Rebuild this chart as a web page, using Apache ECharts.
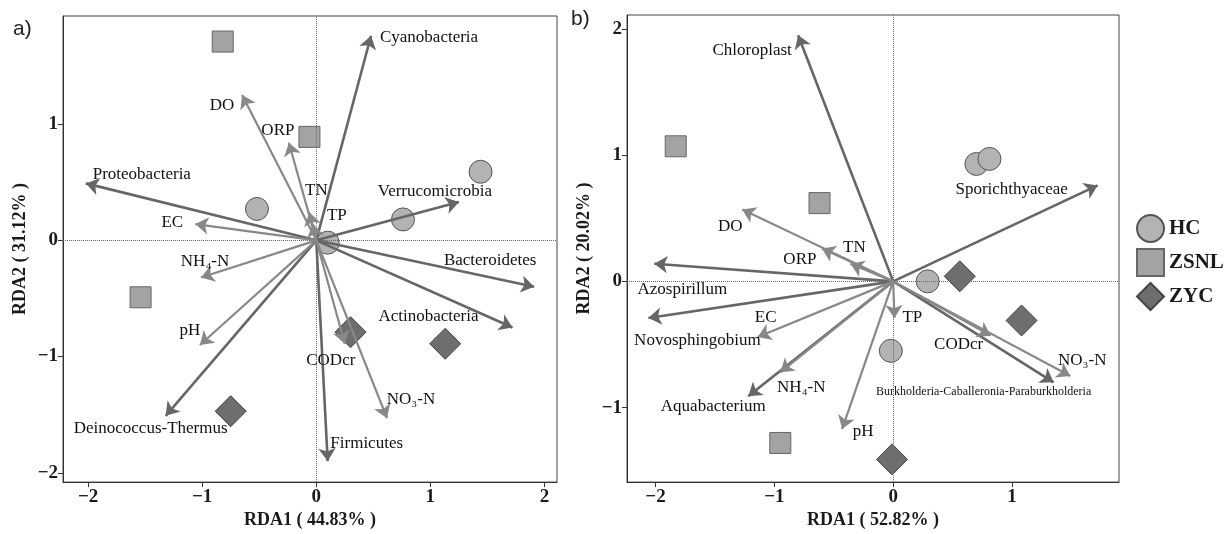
<!DOCTYPE html>
<html>
<head>
<meta charset="utf-8">
<script src="https://cdn.jsdelivr.net/npm/echarts@6/dist/echarts.min.js"></script>
<style>
html,body{margin:0;padding:0;background:#fff;}
#chart{width:1226px;height:534px;}
</style>
</head>
<body>
<div id="chart"></div>
<script>
// ---------- Panel a data ----------
const aArrowNames = ['Cyanobacteria','DO','ORP','TN','TP','Verrucomicrobia','Proteobacteria','EC','NH₄-N','pH','Deinococcus-Thermus','Bacteroidetes','Actinobacteria','CODcr','NO₃-N','Firmicutes'];
const aArrowX = [0.48,-0.65,-0.24,-0.06,-0.03,1.25,-2.02,-1.06,-1.01,-1.02,-1.32,1.91,1.72,0.25,0.62,0.10];
const aArrowY = [1.76,1.25,0.84,0.24,0.14,0.33,0.49,0.14,-0.32,-0.90,-1.51,-0.40,-0.75,-0.89,-1.53,-1.90];
const aArrowType = ['sp','env','env','env','env','sp','sp','env','env','env','sp','sp','sp','env','env','sp'];
const aHCx = [1.44,0.76,-0.52,0.10];
const aHCy = [0.59,0.18,0.27,-0.02];
const aZSNLx = [-0.82,-0.06,-1.54];
const aZSNLy = [1.71,0.89,-0.49];
const aZYCx = [0.30,1.13,-0.75];
const aZYCy = [-0.79,-0.89,-1.47];

// ---------- Panel b data ----------
const bArrowNames = ['Chloroplast','Sporichthyaceae','DO','ORP','TN','Azospirillum','Novosphingobium','EC','NH₄-N','Aquabacterium','pH','TP','CODcr','NO₃-N','Burkholderia-Caballeronia-Paraburkholderia'];
const bArrowX = [-0.80,1.72,-1.27,-0.60,-0.36,-2.01,-2.06,-1.14,-0.95,-1.22,-0.43,0.01,0.82,1.49,1.35];
const bArrowY = [1.95,0.76,0.57,0.26,0.14,0.14,-0.29,-0.44,-0.72,-0.91,-1.17,-0.29,-0.43,-0.75,-0.80];
const bArrowType = ['sp','sp','env','env','env','sp','sp','env','env','sp','env','env','env','env','sp'];
const bHCx = [0.70,0.81,0.29,-0.02];
const bHCy = [0.93,0.97,0.00,-0.55];
const bZSNLx = [-1.83,-0.62,-0.95];
const bZSNLy = [1.07,0.62,-1.28];
const bZYCx = [0.56,1.08,-0.01];
const bZYCy = [0.04,-0.31,-1.41];

const tickValsA = [-2,-1,0,1,2];
const tickValsAy = [-2,-1,0,1];
const tickValsBx = [-2,-1,0,1];
const tickValsBy = [-1,0,1,2];

// ---------- layout (pixel offsets of labels from arrow tips) ----------
const aLabelOffset = {
  'Cyanobacteria':[58,2],'DO':[-20,10],'ORP':[-11,-12],'TN':[7,-22],'TP':[24,-9],
  'Verrucomicrobia':[-24,-10],'Proteobacteria':[56,-9],'EC':[-23,-2],'NH₄-N':[4,-16],
  'pH':[-10,-14],'Deinococcus-Thermus':[-15,13],'Bacteroidetes':[-44,-26],
  'Actinobacteria':[-84,-11],'CODcr':[-14,17],'NO₃-N':[24,-19],'Firmicutes':[39,-18]
};
const bLabelOffset = {
  'Chloroplast':[-46,15],'Sporichthyaceae':[-86,4],'DO':[-12,17],'ORP':[-22,11],'TN':[4,-16],
  'Azospirillum':[28,26],'Novosphingobium':[49,23],'EC':[8,-19],'NH₄-N':[21,15],
  'Aquabacterium':[-35,10],'pH':[21,2],'TP':[18,0],'CODcr':[-32,9],'NO₃-N':[12,-16],
  'Burkholderia-Caballeronia-Paraburkholderia':[-70,9]
};

const SERIF = '"Liberation Serif","Times New Roman",serif';
const colSp = '#666666', colEnv = '#888888';

function fmtMinus(v){ return String(v).replace('-', '\u2212'); }

function makeAxes(idx, xr, yr, xt, yt, xname, yname) {
  const common = {
    type:'value', gridIndex: idx, splitLine:{show:false},
    axisLine:{show:true, onZero:false, lineStyle:{color:'#333', width:1}},
    axisTick:{show:true, length:5, lineStyle:{color:'#333'}},
    nameTextStyle:{fontFamily:SERIF, fontWeight:'bold', fontSize:18, color:'#1a1a1a'},
  };
  const x = Object.assign({}, common, {
    min:xr[0], max:xr[1], name:xname, nameLocation:'middle', nameGap:24,
    axisLabel:{customValues:xt, formatter:fmtMinus, fontFamily:SERIF, fontWeight:'bold', fontSize:19, color:'#1a1a1a', margin:5},
    axisTick:Object.assign({}, common.axisTick, {customValues:xt})
  });
  const y = Object.assign({}, common, {
    min:yr[0], max:yr[1], name:yname, nameLocation:'middle', nameGap:34, nameRotate:90,
    axisLabel:{customValues:yt, formatter:fmtMinus, fontFamily:SERIF, fontWeight:'bold', fontSize:19, color:'#1a1a1a', margin:5},
    axisTick:Object.assign({}, common.axisTick, {customValues:yt})
  });
  return [x, y];
}

function arrowSeries(idx, names, xs, ys, types) {
  const out = [];
  ['sp','env'].forEach(t => {
    const data = [];
    names.forEach((n,i) => { if (types[i]===t) data.push({coords:[[0,0],[xs[i],ys[i]]]}); });
    out.push({
      type:'lines', coordinateSystem:'cartesian2d', xAxisIndex:idx, yAxisIndex:idx,
      symbol:['none','arrow'], symbolSize:[0,13], silent:true, z:5,
      lineStyle:{color: t==='sp'?colSp:colEnv, width: t==='sp'?2.6:2.2, opacity:1, curveness:0},
      data
    });
  });
  return out;
}

function labelSeries(idx, names, xs, ys, offsets) {
  return {
    type:'scatter', xAxisIndex:idx, yAxisIndex:idx, symbolSize:0, silent:true, z:6,
    itemStyle:{opacity:1},
    data: names.map((n,i) => {
      const long = n.length > 30;
      return {
        value:[xs[i], ys[i]], name:n,
        label:{show:true, formatter:n, position:[0,0], offset:offsets[n],
          align:'center', verticalAlign:'middle',
          fontFamily:SERIF, fontSize: long?12:17, color:'#111', opacity:1}
      };
    })
  };
}

function pointSeries(idx, name, xs, ys, symbol, size, fill, stroke) {
  return {
    type:'scatter', name, xAxisIndex:idx, yAxisIndex:idx, symbol, symbolSize:size, z:3,
    itemStyle:{color:fill, borderColor:stroke, borderWidth:1, opacity:1},
    data: xs.map((x,i)=>[x, ys[i]])
  };
}

function zeroLines(idx) {
  return {
    type:'scatter', xAxisIndex:idx, yAxisIndex:idx, data:[], z:1,
    markLine:{silent:true, symbol:['none','none'], label:{show:false},
      lineStyle:{color:'#666', type:'dotted', width:1},
      data:[{xAxis:0},{yAxis:0}], animation:false}
  };
}

const [ax, ay] = makeAxes(0, [-2.22,2.11], [-2.08,1.93], tickValsA, tickValsAy, 'RDA1 ( 44.83% )', 'RDA2 ( 31.12% )');
const [bx, by] = makeAxes(1, [-2.24,1.90], [-1.59,2.11], tickValsBx, tickValsBy, 'RDA1 ( 52.82% )', 'RDA2 ( 20.02% )');

const option = {
  animation:false,
  backgroundColor:'#fff',
  title:[
    {text:'a)', left:8, top:14, textStyle:{fontFamily:'"Liberation Sans",Arial,sans-serif', fontWeight:'normal', fontSize:21, color:'#222'}},
    {text:'b)', left:566, top:4, textStyle:{fontFamily:'"Liberation Sans",Arial,sans-serif', fontWeight:'normal', fontSize:21, color:'#222'}}
  ],
  grid:[
    {left:63, top:16, width:494, height:475, show:true, borderColor:'#444', borderWidth:1, backgroundColor:'transparent'},
    {left:627, top:15, width:492, height:474, show:true, borderColor:'#444', borderWidth:1, backgroundColor:'transparent'}
  ],
  xAxis:[ax, bx],
  yAxis:[ay, by],
  legend:{
    data:['HC','ZSNL','ZYC'], orient:'vertical', left:1131, top:209,
    itemWidth:27, itemHeight:27, itemGap:5,
    textStyle:{fontFamily:SERIF, fontWeight:'bold', fontSize:21, color:'#1a1a1a'}
  },
  series:[
    zeroLines(0), zeroLines(1),
    pointSeries(0,'HC',aHCx,aHCy,'circle',23,'#b3b3b3','#555'),
    pointSeries(0,'ZSNL',aZSNLx,aZSNLy,'rect',21,'#a3a3a3','#666'),
    pointSeries(0,'ZYC',aZYCx,aZYCy,'diamond',31,'#6e6e6e','#444'),
    pointSeries(1,'HC',bHCx,bHCy,'circle',23,'#b3b3b3','#555'),
    pointSeries(1,'ZSNL',bZSNLx,bZSNLy,'rect',21,'#a3a3a3','#666'),
    pointSeries(1,'ZYC',bZYCx,bZYCy,'diamond',31,'#6e6e6e','#444'),
    ...arrowSeries(0, aArrowNames, aArrowX, aArrowY, aArrowType),
    ...arrowSeries(1, bArrowNames, bArrowX, bArrowY, bArrowType),
    labelSeries(0, aArrowNames, aArrowX, aArrowY, aLabelOffset),
    labelSeries(1, bArrowNames, bArrowX, bArrowY, bLabelOffset)
  ]
};

const chart = echarts.init(document.getElementById('chart'), null, {renderer:'canvas'});
chart.setOption(option);
</script>
</body>
</html>
